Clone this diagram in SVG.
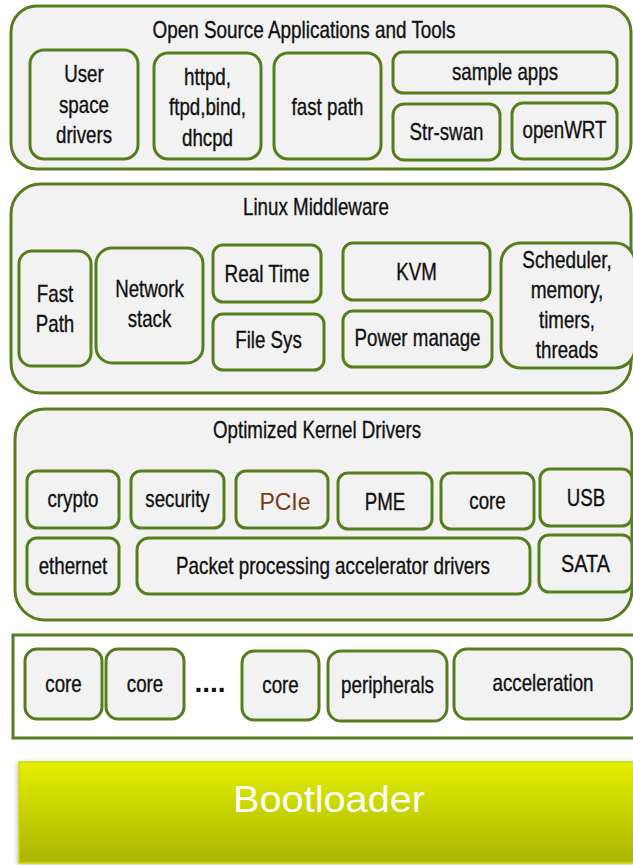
<svg xmlns="http://www.w3.org/2000/svg" width="633" height="865" viewBox="0 0 633 865">
  <defs>
    <linearGradient id="bootFill" x1="0" y1="0" x2="0" y2="1">
      <stop offset="0" stop-color="#e4ee00"/>
      <stop offset="1" stop-color="#a9b500"/>
    </linearGradient>
    <filter id="softShadow" x="-5%" y="-5%" width="110%" height="110%">
      <feGaussianBlur in="SourceAlpha" stdDeviation="2"/>
      <feOffset dx="-1" dy="1" result="b"/>
      <feFlood flood-color="#000" flood-opacity="0.25"/>
      <feComposite in2="b" operator="in"/>
      <feMerge><feMergeNode/><feMergeNode in="SourceGraphic"/></feMerge>
    </filter>
  </defs>
  <style>
    .layer { fill: #f2f2f2; stroke: #567e1e; stroke-width: 3; }
    .plain { fill: #ffffff; stroke: #567e1e; stroke-width: 3; }
    .box { fill: #f2f2f2; stroke: #567e1e; stroke-width: 3; }
    .t { font-family: "Liberation Sans", Arial, sans-serif; font-size: 24px; fill: #111111; stroke: #111111; stroke-width: 0.35; text-anchor: middle; }
    .pcie { font-family: "Liberation Sans", Arial, sans-serif; font-size: 23px; fill: #7b3a16; text-anchor: middle; }
    .dots { font-family: "Liberation Sans", Arial, sans-serif; font-size: 28px; font-weight: bold; fill: #111111; text-anchor: middle; }
    .boot { font-family: "Liberation Sans", Arial, sans-serif; font-size: 37px; fill: #ffffff; text-anchor: middle; }
  </style>

  <!-- Layer 1: applications -->
  <g id="apps-layer">
    <rect class="layer" x="11" y="6" width="620" height="163" rx="26"/>
    <text class="t" x="304" y="38" textLength="303" lengthAdjust="spacingAndGlyphs">Open Source Applications and Tools</text>
  </g>
  <g id="user-space-drivers">
    <rect class="box" x="30" y="50" width="108" height="109" rx="14"/>
    <text class="t" x="84" y="82" textLength="39.5" lengthAdjust="spacingAndGlyphs">User</text>
    <text class="t" x="84" y="113" textLength="50" lengthAdjust="spacingAndGlyphs">space</text>
    <text class="t" x="84" y="143" textLength="56" lengthAdjust="spacingAndGlyphs">drivers</text>
  </g>
  <g id="daemons">
    <rect class="box" x="154" y="53" width="107" height="106" rx="14"/>
    <text class="t" x="207.5" y="85" textLength="47" lengthAdjust="spacingAndGlyphs">httpd,</text>
    <text class="t" x="207.5" y="115" textLength="77" lengthAdjust="spacingAndGlyphs">ftpd,bind,</text>
    <text class="t" x="207.5" y="146" textLength="51" lengthAdjust="spacingAndGlyphs">dhcpd</text>
  </g>
  <g id="fast-path-app">
    <rect class="box" x="274" y="53" width="107" height="106" rx="14"/>
    <text class="t" x="327.5" y="115" textLength="72" lengthAdjust="spacingAndGlyphs">fast path</text>
  </g>
  <g id="sample-apps">
    <rect class="box" x="393" y="52" width="224" height="41" rx="10"/>
    <text class="t" x="505" y="80" textLength="106" lengthAdjust="spacingAndGlyphs">sample apps</text>
  </g>
  <g id="strswan">
    <rect class="box" x="393" y="104" width="107" height="56" rx="11"/>
    <text class="t" x="446.5" y="140" textLength="74" lengthAdjust="spacingAndGlyphs">Str-swan</text>
  </g>
  <g id="openwrt">
    <rect class="box" x="512" y="103" width="105" height="56" rx="11"/>
    <text class="t" x="564.5" y="138" textLength="84" lengthAdjust="spacingAndGlyphs">openWRT</text>
  </g>

  <!-- Layer 2: middleware -->
  <g id="middleware-layer">
    <rect class="layer" x="11" y="184" width="620" height="209" rx="30"/>
    <text class="t" x="316" y="215" textLength="146" lengthAdjust="spacingAndGlyphs">Linux Middleware</text>
  </g>
  <g id="fast-path-mw">
    <rect class="box" x="19" y="251" width="72" height="115" rx="13"/>
    <text class="t" x="55" y="302" textLength="36.5" lengthAdjust="spacingAndGlyphs">Fast</text>
    <text class="t" x="55" y="332" textLength="38.5" lengthAdjust="spacingAndGlyphs">Path</text>
  </g>
  <g id="network-stack">
    <rect class="box" x="96" y="248" width="107" height="115" rx="16"/>
    <text class="t" x="149.5" y="297" textLength="68.6" lengthAdjust="spacingAndGlyphs">Network</text>
    <text class="t" x="149.5" y="327" textLength="43.6" lengthAdjust="spacingAndGlyphs">stack</text>
  </g>
  <g id="real-time">
    <rect class="box" x="213" y="245" width="108" height="57" rx="10"/>
    <text class="t" x="267" y="282" textLength="85" lengthAdjust="spacingAndGlyphs">Real Time</text>
  </g>
  <g id="file-sys">
    <rect class="box" x="213" y="314" width="111" height="56" rx="10"/>
    <text class="t" x="268.5" y="348" textLength="66.5" lengthAdjust="spacingAndGlyphs">File Sys</text>
  </g>
  <g id="kvm">
    <rect class="box" x="343" y="243" width="147" height="57" rx="10"/>
    <text class="t" x="416.5" y="280" textLength="40.5" lengthAdjust="spacingAndGlyphs">KVM</text>
  </g>
  <g id="power-manage">
    <rect class="box" x="343" y="311" width="149" height="56" rx="10"/>
    <text class="t" x="417.5" y="346" textLength="126" lengthAdjust="spacingAndGlyphs">Power manage</text>
  </g>
  <g id="scheduler">
    <rect class="box" x="501" y="243" width="134" height="125" rx="20"/>
    <text class="t" x="567" y="268" textLength="89.5" lengthAdjust="spacingAndGlyphs">Scheduler,</text>
    <text class="t" x="567" y="298" textLength="72.7" lengthAdjust="spacingAndGlyphs">memory,</text>
    <text class="t" x="567" y="328" textLength="56" lengthAdjust="spacingAndGlyphs">timers,</text>
    <text class="t" x="567" y="358" textLength="62.4" lengthAdjust="spacingAndGlyphs">threads</text>
  </g>

  <!-- Layer 3: kernel drivers -->
  <g id="kernel-layer">
    <rect class="layer" x="15" y="409" width="617" height="211" rx="30"/>
    <text class="t" x="317" y="438" textLength="208" lengthAdjust="spacingAndGlyphs">Optimized Kernel Drivers</text>
  </g>
  <g id="crypto">
    <rect class="box" x="27" y="471" width="92" height="57" rx="10"/>
    <text class="t" x="73" y="507" textLength="51" lengthAdjust="spacingAndGlyphs">crypto</text>
  </g>
  <g id="security">
    <rect class="box" x="131" y="471" width="93" height="57" rx="10"/>
    <text class="t" x="177.5" y="507" textLength="64.4" lengthAdjust="spacingAndGlyphs">security</text>
  </g>
  <g id="pcie">
    <rect class="box" x="236" y="471" width="92" height="57" rx="10"/>
    <text class="pcie" x="285" y="510">PCIe</text>
  </g>
  <g id="pme">
    <rect class="box" x="338" y="473" width="94" height="56" rx="10"/>
    <text class="t" x="385" y="510" textLength="40.5" lengthAdjust="spacingAndGlyphs">PME</text>
  </g>
  <g id="core-driver">
    <rect class="box" x="441" y="473" width="93" height="56" rx="10"/>
    <text class="t" x="487.5" y="509" textLength="36.4" lengthAdjust="spacingAndGlyphs">core</text>
  </g>
  <g id="usb">
    <rect class="box" x="540" y="469" width="92" height="57" rx="10"/>
    <text class="t" x="586" y="506" textLength="38.4" lengthAdjust="spacingAndGlyphs">USB</text>
  </g>
  <g id="ethernet">
    <rect class="box" x="27" y="538" width="92" height="56" rx="10"/>
    <text class="t" x="73" y="574" textLength="68.6" lengthAdjust="spacingAndGlyphs">ethernet</text>
  </g>
  <g id="packet-processing">
    <rect class="box" x="137" y="538" width="393" height="56" rx="12"/>
    <text class="t" x="333" y="574" textLength="314" lengthAdjust="spacingAndGlyphs">Packet processing accelerator drivers</text>
  </g>
  <g id="sata">
    <rect class="box" x="539" y="535" width="93" height="57" rx="10"/>
    <text class="t" x="585.5" y="572" textLength="48.8" lengthAdjust="spacingAndGlyphs">SATA</text>
  </g>

  <!-- Layer 4: hardware -->
  <g id="hardware-layer">
    <rect class="plain" x="13" y="635" width="630" height="103"/>
    <text class="dots" x="210" y="692">....</text>
  </g>
  <g id="core-1">
    <rect class="box" x="25" y="649" width="77" height="70" rx="12"/>
    <text class="t" x="63.5" y="692" textLength="36.4" lengthAdjust="spacingAndGlyphs">core</text>
  </g>
  <g id="core-2">
    <rect class="box" x="106" y="649" width="78" height="70" rx="12"/>
    <text class="t" x="145" y="692" textLength="36.4" lengthAdjust="spacingAndGlyphs">core</text>
  </g>
  <g id="core-n">
    <rect class="box" x="242" y="651" width="77" height="69" rx="12"/>
    <text class="t" x="280.5" y="693" textLength="36.4" lengthAdjust="spacingAndGlyphs">core</text>
  </g>
  <g id="peripherals">
    <rect class="box" x="328" y="651" width="119" height="70" rx="13"/>
    <text class="t" x="387.5" y="693" textLength="93" lengthAdjust="spacingAndGlyphs">peripherals</text>
  </g>
  <g id="acceleration">
    <rect class="box" x="454" y="649" width="178" height="70" rx="13"/>
    <text class="t" x="543" y="691" textLength="101" lengthAdjust="spacingAndGlyphs">acceleration</text>
  </g>

  <!-- Bootloader bar -->
  <g id="bootloader">
    <rect x="19" y="762" width="620" height="101" fill="url(#bootFill)" stroke="#cdd700" stroke-width="1.5" filter="url(#softShadow)"/>
    <text class="boot" x="329" y="812" textLength="192" lengthAdjust="spacingAndGlyphs">Bootloader</text>
  </g>

  <!-- no connectors are drawn: layers are stacked -->
  <g id="connectors"/>
</svg>
